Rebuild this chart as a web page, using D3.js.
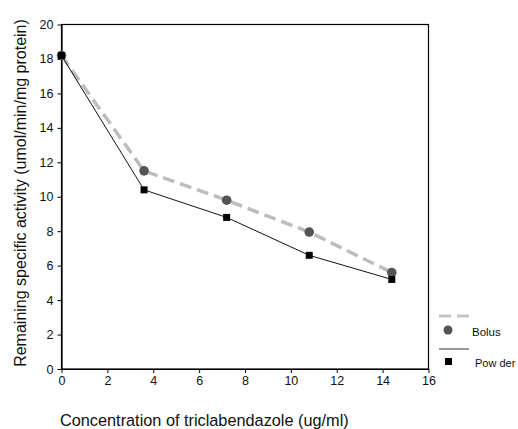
<!DOCTYPE html>
<html>
<head>
<meta charset="utf-8">
<script src="https://cdn.jsdelivr.net/npm/d3@7"></script>
<style>
  body { margin: 0; background: #fff; }
  svg { display: block; font-family: "Liberation Sans", Arial, sans-serif; }
</style>
</head>
<body>
<svg id="chart" width="518" height="429"></svg>
<script>
// concentration (ug/ml)
const concentrations = [0, 3.6, 7.2, 10.8, 14.4];
const bolusValues = [18.2, 11.5, 9.8, 7.95, 5.6];
const powderValues = [18.2, 10.4, 8.8, 6.6, 5.2];
const xTicks = [0, 2, 4, 6, 8, 10, 12, 14, 16];
const yTicks = [0, 2, 4, 6, 8, 10, 12, 14, 16, 18, 20];

const svg = d3.select("#chart");

const x = d3.scaleLinear().domain([0, 16]).range([61.5, 428.5]);
const y = d3.scaleLinear().domain([0, 20]).range([369, 24.5]);

// frame
svg.append("rect")
  .attr("x", x(0)).attr("y", y(20))
  .attr("width", x(16) - x(0)).attr("height", y(0) - y(20))
  .attr("fill", "none").attr("stroke", "#000").attr("stroke-width", 1.2);

const xAxis = svg.append("g")
  .attr("transform", `translate(0,${y(0)})`)
  .call(d3.axisBottom(x).tickValues(xTicks).tickSize(4).tickSizeOuter(0));
const yAxis = svg.append("g")
  .attr("transform", `translate(${x(0)},0)`)
  .call(d3.axisLeft(y).tickValues(yTicks).tickSize(4).tickSizeOuter(0));

[xAxis, yAxis].forEach(a => {
  a.select(".domain").attr("stroke-width", 1.2);
  a.selectAll("text").attr("font-size", 12.5).attr("fill", "#111")
    .style("font-family", "Liberation Sans, Arial, sans-serif");
});
yAxis.selectAll("text").attr("x", -8);
xAxis.selectAll("text").attr("y", 7);

const line = d3.line().x(d => x(d[0])).y(d => y(d[1]));
const bolus = concentrations.map((c, i) => [c, bolusValues[i]]);
const powder = concentrations.map((c, i) => [c, powderValues[i]]);

svg.append("path").datum(bolus).attr("d", line)
  .attr("fill", "none").attr("stroke", "#bdbdbd")
  .attr("stroke-width", 3.5).attr("stroke-dasharray", "12,6");

svg.append("path").datum(powder).attr("d", line)
  .attr("fill", "none").attr("stroke", "#111").attr("stroke-width", 1);

svg.selectAll("circle.bolus").data(bolus).enter().append("circle")
  .attr("class", "bolus")
  .attr("cx", d => x(d[0])).attr("cy", d => y(d[1])).attr("r", 4.8)
  .attr("fill", "#555");

svg.selectAll("rect.powder").data(powder).enter().append("rect")
  .attr("class", "powder")
  .attr("x", d => x(d[0]) - 3.5).attr("y", d => y(d[1]) - 3.5)
  .attr("width", 7).attr("height", 7)
  .attr("fill", "#000");

// legend
const lg = svg.append("g");
lg.append("line").attr("x1", 439).attr("x2", 469).attr("y1", 316).attr("y2", 316)
  .attr("stroke", "#c4c4c4").attr("stroke-width", 3).attr("stroke-dasharray", "12,6");
lg.append("circle").attr("cx", 448).attr("cy", 330).attr("r", 4.5).attr("fill", "#555");
lg.append("text").attr("x", 472).attr("y", 336).attr("font-size", 11.5).attr("fill", "#111").text("Bolus");
lg.append("line").attr("x1", 439).attr("x2", 469).attr("y1", 349).attr("y2", 349)
  .attr("stroke", "#777").attr("stroke-width", 1.5);
lg.append("rect").attr("x", 445).attr("y", 358).attr("width", 7).attr("height", 7).attr("fill", "#000");
lg.append("text").attr("x", 475).attr("y", 367).attr("font-size", 11).attr("fill", "#111").text("Pow der");

// axis titles
svg.append("text")
  .attr("transform", `translate(26,193) rotate(-90)`)
  .attr("text-anchor", "middle").attr("font-size", 16).attr("fill", "#111")
  .text("Remaining specific activity (umol/min/mg protein)");

svg.append("text")
  .attr("x", 60).attr("y", 426)
  .attr("font-size", 16.3).attr("fill", "#111")
  .text("Concentration of triclabendazole (ug/ml)");
</script>
</body>
</html>
